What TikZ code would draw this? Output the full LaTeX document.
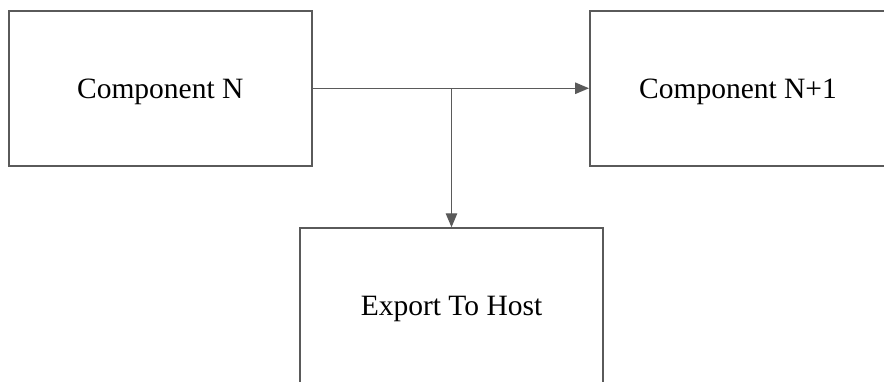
\documentclass[tikz,border=0pt]{standalone}
\usepackage{fontspec}
\setmainfont{Liberation Serif}
\usetikzlibrary{arrows.meta}
\definecolor{edgegray}{HTML}{5A5A5A}
\begin{document}
\begin{tikzpicture}[x=1pt,y=-1pt,
  block/.style={draw=edgegray, line width=2pt, rectangle, minimum height=155.5pt,
    inner sep=0pt, text depth=0pt, font=\fontsize{29.5}{34}\selectfont, text=black},
  link/.style={draw=edgegray, line width=1.4pt,
    -{Triangle[length=14pt,width=11.5pt]}}]
  \useasboundingbox (0,0) rectangle (884,381);
  \node[block, minimum width=303.5pt] (compn)  at (160.25,88.25) {Component N};
  \node[block, minimum width=296pt]   (compn1) at (738,88.25)    {Component N+1};
  \node[block, minimum width=303pt]   (export) at (451.5,306)    {Export To Host};
  \coordinate (split) at (export.north |- compn.east);
  \draw[link] (compn.east) -- (compn1.west);
  \draw[link] (split) -- (export.north);
\end{tikzpicture}
\end{document}
